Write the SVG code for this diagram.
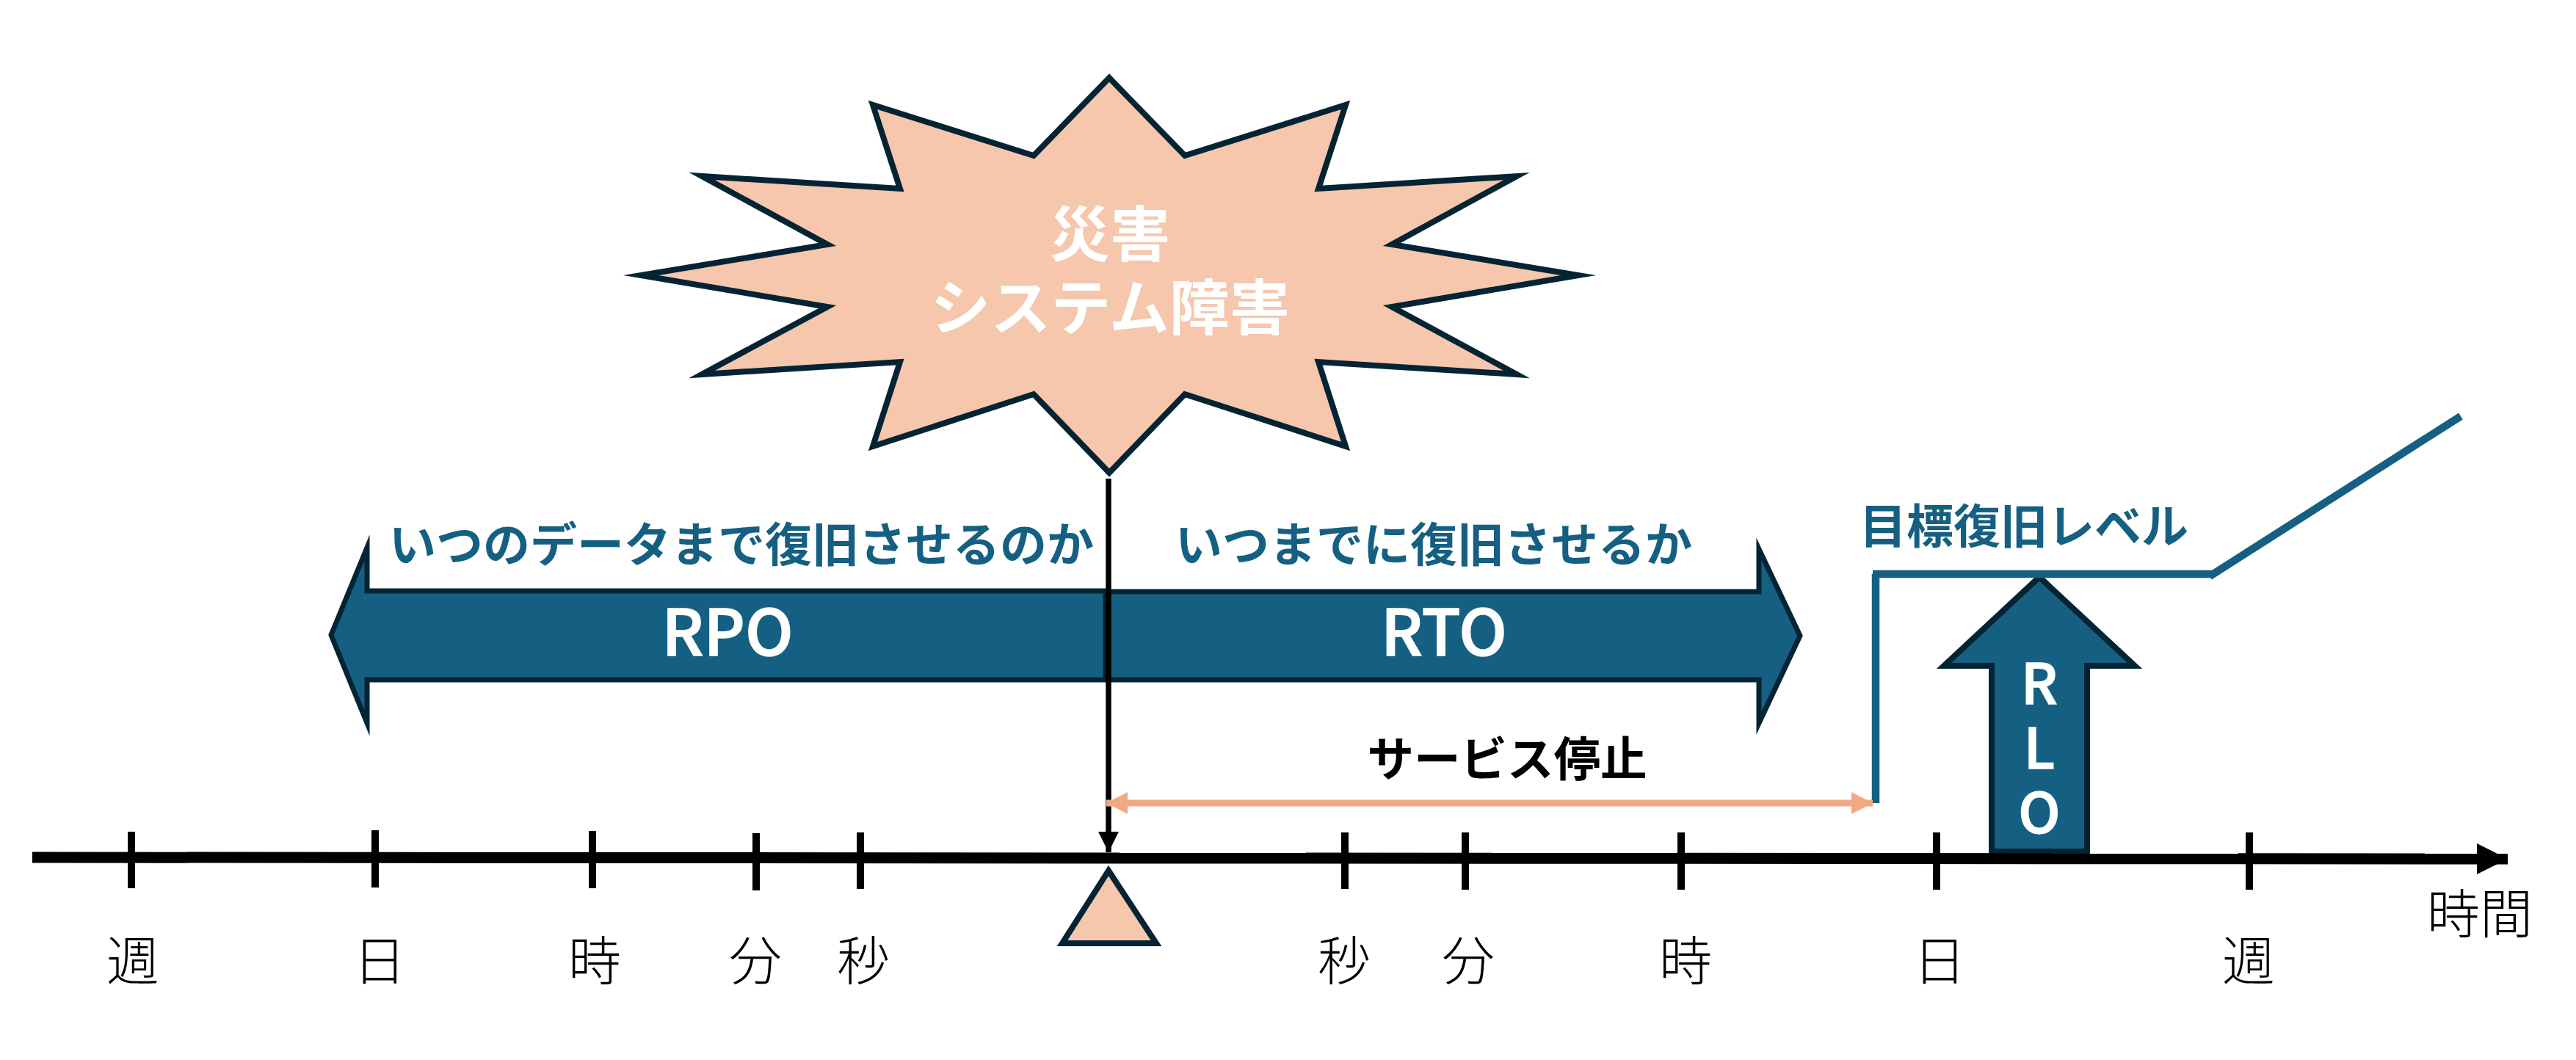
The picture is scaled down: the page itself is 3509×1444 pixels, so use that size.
<svg xmlns="http://www.w3.org/2000/svg" width="3509" height="1444" viewBox="0 0 3509 1444">
<style>
text{font-family:"Noto Sans CJK JP","Noto Sans",sans-serif;text-anchor:middle}
.shape{stroke:#042433;stroke-width:8;stroke-miterlimit:20}
.block{fill:#156082;stroke:#042433;stroke-width:7;stroke-miterlimit:20}
.peach{fill:#F6C6AD}
.tick{stroke:#000;stroke-width:10;fill:none}
.unit{font-size:72px;font-weight:300;fill:#000}
.head{font-size:64px;font-weight:700;fill:#156082}
.big{font-size:82px;font-weight:700;fill:#fff}
.cap{font-size:87px;font-weight:500;fill:#fff;stroke:#fff;stroke-width:1.5}
.rlo{font-size:76px;font-weight:500;fill:#fff;stroke:#fff;stroke-width:1.5}
.level{stroke:#156082;stroke-width:10.5;fill:none}
</style>
<defs>
<marker id="oa" markerUnits="userSpaceOnUse" markerWidth="30" markerHeight="30" refX="29" refY="15" orient="auto-start-reverse"><path d="M0,0L29,15L0,30Z" fill="#F1A983"/></marker>
<marker id="ba" markerUnits="userSpaceOnUse" markerWidth="28" markerHeight="30" refX="28" refY="14" orient="auto"><path d="M0,0L28,14L0,28Z" fill="#000"/></marker>
<marker id="ax" markerUnits="userSpaceOnUse" markerWidth="44" markerHeight="42" refX="42" refY="21" orient="auto"><path d="M0,0L42,21L0,42Z" fill="#000"/></marker>
</defs>

<g id="burst">
<polygon class="shape peach" points="1511,106 1614,212 1833,143 1796,257 2066,240 1896,333 2150,375 1896,418 2066,510 1796,493 1833,608 1614,537 1511,644 1408,537 1189,608 1226,493 956,510 1127,418 873,375 1127,333 956,240 1226,257 1189,143 1408,212"/>
<text class="big" x="1512" y="349">災害</text>
<text class="big" x="1512" y="449">システム障害</text>
</g>

<g id="rpo">
<path class="block" d="M451,865L500,746V805H1506V926H500V985Z"/>
<text class="cap" x="991" y="893">RPO</text>
<text class="head" x="1010" y="765">いつのデータまで復旧させるのか</text>
</g>
<g id="rto">
<path class="block" d="M2452,866L2396,748V806H1510V926H2396V985Z"/>
<text class="cap" x="1967" y="893">RTO</text>
<text class="head" x="1953" y="765">いつまでに復旧させるか</text>
</g>

<g id="rlo">
<path class="shape" fill="#156082" d="M2778,786L2908,907H2843V1160H2713V907H2648Z"/>
<text class="rlo" x="2778" y="959">R</text>
<text class="rlo" x="2778" y="1047">L</text>
<text class="rlo" x="2778" y="1135">O</text>
</g>

<g id="level">
<path class="level" d="M2555,1094V782"/>
<path class="level" d="M2551,782H3014"/>
<path class="level" d="M3010,785L3352,567"/>
<text class="head" x="2757" y="740">目標復旧レベル</text>
</g>

<g id="connectors">
<path d="M44,1168L3416,1170" stroke="#000" stroke-width="15" fill="none" marker-end="url(#ax)"/>
<path d="M1510,652V1161" stroke="#000" stroke-width="7.5" fill="none" marker-end="url(#ba)"/>
<path d="M1507,1094H2551" stroke="#F1A983" stroke-width="9" fill="none" marker-start="url(#oa)" marker-end="url(#oa)"/>
</g>

<g id="axis-ticks">
<path class="tick" d="M179,1133V1210M511,1131V1209M807,1132V1210M1030,1135V1213M1172,1134V1211M1832,1134V1211M1996,1134V1212M2290,1134V1212M2638,1134V1212M3064,1134V1212"/>
</g>

<g id="service-stop">
<text x="2053" y="1057" style="font-size:63.5px;font-weight:700;fill:#000">サービス停止</text>
</g>

<g id="event-marker">
<polygon class="shape peach" points="1510,1186 1575,1285 1447,1285"/>
</g>

<g id="labels">
<text class="unit" x="181" y="1335">週</text>
<text class="unit" x="517" y="1335">日</text>
<text class="unit" x="810" y="1335">時</text>
<text class="unit" x="1029" y="1335">分</text>
<text class="unit" x="1176" y="1335">秒</text>
<text class="unit" x="1831" y="1335">秒</text>
<text class="unit" x="2000" y="1335">分</text>
<text class="unit" x="2296" y="1335">時</text>
<text class="unit" x="2642" y="1335">日</text>
<text class="unit" x="3063" y="1335">週</text>
<text class="unit" x="3378" y="1271">時間</text>
</g>
</svg>
